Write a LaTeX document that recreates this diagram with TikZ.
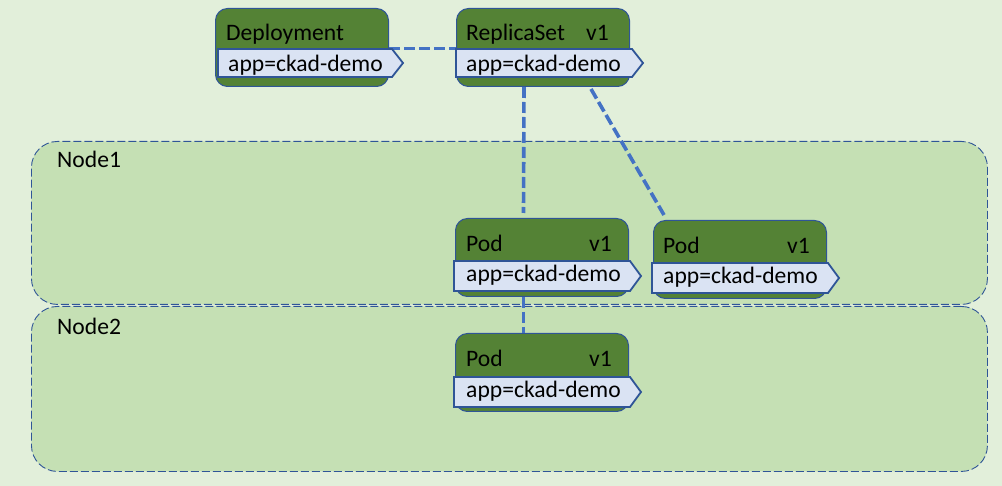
\documentclass[tikz,border=0pt]{standalone}
\usepackage{fontspec}
\setmainfont{Carlito}
\definecolor{bg}{HTML}{E2EFDA}
\definecolor{rgnfill}{HTML}{C5E0B4}
\definecolor{rgnborder}{HTML}{2F5597}
\definecolor{boxfill}{HTML}{548235}
\definecolor{boxborder}{HTML}{2F5597}
\definecolor{tagfill}{HTML}{DAE3F3}
\definecolor{tagborder}{HTML}{2F5597}
\definecolor{conncol}{HTML}{4472C4}
\newcommand\apptag[4]{% left, top, bottom, tip x
  \draw[tagshape] (#1,#2) -- ({#4-11},#2) -- (#4,{(#2+#3)/2}) -- ({#4-11},#3) -- (#1,#3) -- cycle;}
\begin{document}
\begin{tikzpicture}[x=1pt,y=-1pt,
  region/.style={draw=rgnborder, fill=rgnfill, line width=0.9pt, dash pattern=on 8pt off 3pt, rounded corners=26pt, anchor=north west, inner sep=0pt},
  obj/.style={draw=boxborder, fill=boxfill, line width=1pt, rounded corners=12pt, minimum width=173pt, minimum height=78pt, anchor=north west, inner sep=0pt},
  tagshape/.style={draw=tagborder, fill=tagfill, line width=1.8pt, line join=miter},
  txt/.style={anchor=base west, inner sep=0pt, font=\fontsize{23.6}{28}\selectfont},
  conn/.style={draw=conncol, line width=3.6pt, dash pattern=on 11pt off 4pt}
]
\fill[bg] (0,0) rectangle (1002,486);
\useasboundingbox (0,0) rectangle (1002,486);

% regions
\node[region, minimum width=956pt, minimum height=163pt] (n1) at (31,141) {};
\node[region, minimum width=956pt, minimum height=165pt] (n2) at (31,306) {};
\node[txt] (n1t) at (57,168) {Node1};
\node[txt] (n2t) at (57,335) {Node2};

% boxes
\node[obj] (dep) at (215,8) {};
\node[obj] (rs) at (456,8) {};
\node[obj] (pod1) at (455,218) {};
\node[obj] (pod2) at (653,220) {};
\node[obj] (pod3) at (455,333) {};

% connectors
\draw[conn] ([yshift=-1pt]dep.east) -- ([yshift=-1pt]rs.west);
\draw[conn] ([xshift=-19pt]rs.south) -- ([xshift=-18.5pt,yshift=5pt]pod1.north);
\draw[conn] ([xshift=48pt,yshift=-2pt]rs.south) -- ([xshift=11pt,yshift=5pt]pod2.north west);
\draw[conn] ([xshift=-18.5pt]pod1.south) -- ([xshift=-18.5pt]pod3.north);

% tags
\apptag{218}{49}{77}{403}
\apptag{456}{49}{77}{643}
\apptag{454}{261}{291}{641}
\apptag{652}{263}{293}{839}
\apptag{454}{377}{407}{641}

% texts
\node[txt] (dept) at (226,41) {Deployment};
\node[txt] (rst) at (466,41) {ReplicaSet};
\node[txt] (rsv) at (586,41) {v1};
\node[txt] (p1t) at (466,252) {Pod};
\node[txt] (p1v) at (589,252) {v1};
\node[txt] (p2t) at (663,254) {Pod};
\node[txt] (p2v) at (787,254) {v1};
\node[txt] (p3t) at (466,367) {Pod};
\node[txt] (p3v) at (589,367) {v1};

\node[txt] (dept2) at (228,72) {app=ckad-demo};
\node[txt] (rst2) at (466,72) {app=ckad-demo};
\node[txt] (p1t2) at (466,282) {app=ckad-demo};
\node[txt] (p2t2) at (663,284) {app=ckad-demo};
\node[txt] (p3t2) at (466,398) {app=ckad-demo};
\end{tikzpicture}
\end{document}
